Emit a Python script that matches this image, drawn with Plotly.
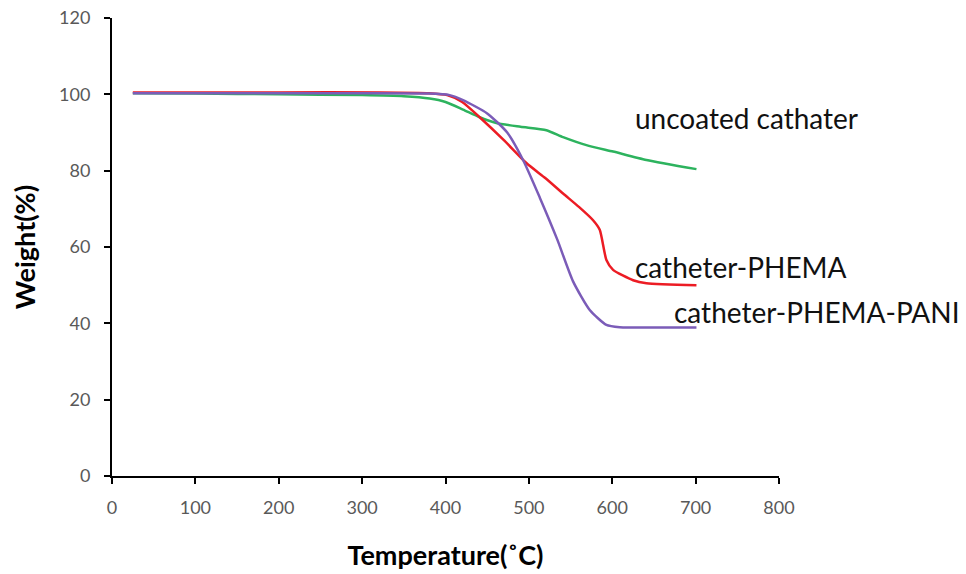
import plotly.graph_objects as go

# Data
temp_uncoated = [25, 100, 200, 300, 350, 381, 400, 421, 441, 461, 490, 521, 541, 569, 601, 641, 701]
wt_uncoated = [100.3, 100.2, 100.0, 99.8, 99.5, 98.9, 98.0, 96.0, 94.0, 92.5, 91.5, 90.6, 88.8, 86.7, 85.0, 82.8, 80.4]

temp_phema = [25, 100, 200, 321, 380, 402, 420, 441, 470, 497, 520, 541, 560, 577, 585, 593, 601, 625, 641, 701]
wt_phema = [100.5, 100.5, 100.5, 100.5, 100.3, 99.8, 98.0, 94.0, 88.0, 82.0, 78.0, 74.0, 70.5, 67.0, 64.5, 56.6, 54.0, 51.3, 50.5, 50.0]

temp_pani = [25, 100, 200, 300, 380, 405, 421, 450, 474, 493, 513, 534, 553, 573, 593, 609, 650, 701]
wt_pani = [100.3, 100.3, 100.3, 100.3, 100.2, 99.8, 98.5, 95.0, 90.0, 82.8, 73.0, 62.0, 51.0, 43.5, 39.6, 39.0, 38.9, 38.9]

series_names = ["uncoated cathater", "catheter-PHEMA", "catheter-PHEMA-PANI"]
series_colors = ["#2db35e", "#ec1c24", "#7b5cb8"]
label_x = [625, 625, 671.5]
label_y = [93.8, 54.8, 43.0]

x_ticks = [0, 100, 200, 300, 400, 500, 600, 700, 800]
y_ticks = [0, 20, 40, 60, 80, 100, 120]

fig = go.Figure()
for xs, ys, name, col in zip([temp_uncoated, temp_phema, temp_pani],
                             [wt_uncoated, wt_phema, wt_pani],
                             series_names, series_colors):
    fig.add_trace(go.Scatter(x=xs, y=ys, mode="lines", name=name,
                             line=dict(color=col, width=2.5, shape="spline", smoothing=0.6),
                             showlegend=False))

for name, lx, ly in zip(series_names, label_x, label_y):
    fig.add_annotation(x=lx, y=ly, text=name, showarrow=False, xanchor="left", yanchor="middle",
                       font=dict(family="Lato, Open Sans, sans-serif", size=28, color="#111111"))

fig.update_layout(
    width=966, height=574,
    margin=dict(l=112, r=187, t=18, b=98, autoexpand=False),
    paper_bgcolor="white", plot_bgcolor="white",
    font=dict(family="Lato, Open Sans, sans-serif"),
)
fig.update_xaxes(range=[0, 800], tickvals=x_ticks, showgrid=False, zeroline=False,
                 showline=True, linecolor="black", linewidth=2, automargin=False,
                 ticks="outside", ticklen=6, tickwidth=2, tickcolor="black",
                 ticklabelstandoff=8,
                 tickfont=dict(size=18, color="#595959"),
                 title=dict(text="<b>Temperature(˚C)</b>", font=dict(size=27, color="black"), standoff=30))
fig.update_yaxes(range=[0, 120], tickvals=y_ticks, showgrid=False, zeroline=False,
                 showline=True, linecolor="black", linewidth=2, automargin=False,
                 ticks="outside", ticklen=6, tickwidth=2, tickcolor="black",
                 ticklabelstandoff=10,
                 tickfont=dict(size=18, color="#595959"),
                 title=dict(text="<b>Weight(%)</b>", font=dict(size=27, color="black"), standoff=16))

fig.write_html("out.html")
